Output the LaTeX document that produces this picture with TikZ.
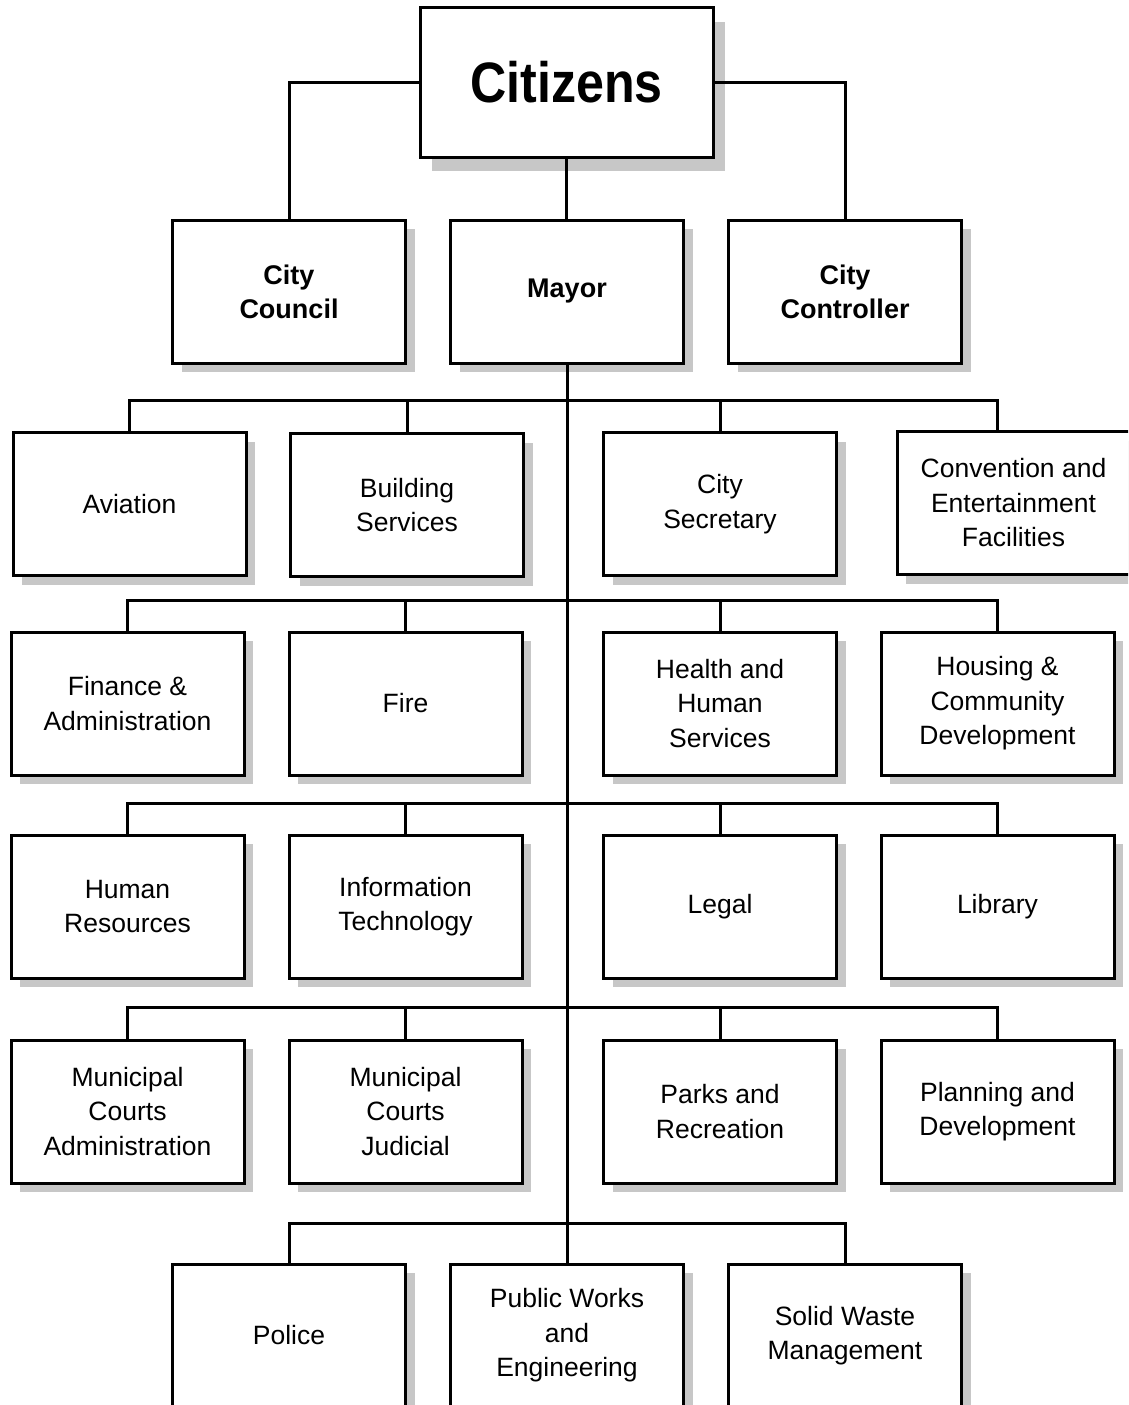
\documentclass[tikz,border=0pt]{standalone}
\usepackage{fontspec}
\usepackage{graphicx}
\setmainfont{Liberation Sans}
\usetikzlibrary{shadows}
\begin{document}
\begin{tikzpicture}[x=1pt,y=-1pt,
  plainbox/.style={draw, line width=3pt, fill=white, minimum width=233pt, minimum height=143pt,
    inner sep=0pt, outer sep=0pt, align=center, font=\fontsize{26.5}{34.5}\selectfont},
  sh/.style={drop shadow={shadow xshift=9pt, shadow yshift=-9pt, fill=black!22, opacity=1}},
  unit/.style={plainbox, sh},
  head/.style={unit, font=\bfseries\fontsize{27}{34}\selectfont},
  link/.style={line width=3pt}]
\useasboundingbox (0,0) rectangle (1128,1405);
\clip (0,0) rectangle (1128,1405);

% top
\node[plainbox, minimum width=293pt, minimum height=149pt,
  drop shadow={shadow xshift=12pt, shadow yshift=-14pt, fill=black!22, opacity=1},
  font=\bfseries\fontsize{57}{60}\selectfont] (cit) at (566.5,82.5) {\scalebox{0.88}[1]{Citizens}};

\node[head] (council) at (289,291.5) {City\\Council};
\node[head] (mayor) at (567,291.5) {Mayor};
\node[head] (ctrl) at (845,291.5) {City\\Controller};

% row 3
\node[unit] (avi) at (129.5,504) {Aviation};
\node[unit] (bld) at (407,505) {Building\\Services};
\node[unit] (sec) at (720,504) {City\\Secretary};
\node[unit] (conv) at (1013.5,503) {Convention and\\Entertainment\\Facilities};
% row 4
\node[unit] (fin) at (127.5,703.5) {Finance \&\\Administration};
\node[unit] (fire) at (405.5,703.5) {Fire};
\node[unit] (hhs) at (720,703.5) {Health and\\Human\\Services};
\node[unit] (hcd) at (997.5,703.5) {Housing \&\\Community\\Development};
% row 5
\node[unit] (hr) at (127.5,906.5) {Human\\Resources};
\node[unit] (it) at (405.5,906.5) {Information\\Technology};
\node[unit] (legal) at (720,906.5) {Legal};
\node[unit] (lib) at (997.5,906.5) {Library};
% row 6
\node[unit] (mca) at (127.5,1111.5) {Municipal\\Courts\\Administration};
\node[unit] (mcj) at (405.5,1111.5) {Municipal\\Courts\\Judicial};
\node[unit] (parks) at (720,1111.5) {Parks and\\Recreation};
\node[unit] (plan) at (997.5,1111.5) {Planning and\\Development};
% row 7
\node[unit] (police) at (289,1335.5) {Police};
\node[unit] (pw) at (567,1335.5) {Public Works\\and\\Engineering};
\node[unit] (sw) at (845,1335.5) {Solid Waste\\Management};

% connectors top
\draw[link] (cit.west) -| (council.north);
\draw[link] (cit.east) -| (ctrl.north);
\draw[link] (cit.south) -- (cit.south |- mayor.north);
\draw[link] (mayor.south) -- (mayor.south |- pw.north);

% buses
\coordinate (b3) at (565,400);
\coordinate (b4) at (565,600);
\coordinate (b5) at (565,803);
\coordinate (b6) at (565,1007);
\coordinate (b7) at (565,1223);
\coordinate (convin) at (997,432);

\draw[link] (avi.north) -- (avi.north |- b3) -- (convin |- b3) -- (convin);
\draw[link] (bld.north) -- (bld.north |- b3);
\draw[link] (sec.north) -- (sec.north |- b3);

\draw[link] (fin.north) -- (fin.north |- b4) -- (hcd.north |- b4) -- (hcd.north);
\draw[link] (fire.north) -- (fire.north |- b4);
\draw[link] (hhs.north) -- (hhs.north |- b4);

\draw[link] (hr.north) -- (hr.north |- b5) -- (lib.north |- b5) -- (lib.north);
\draw[link] (it.north) -- (it.north |- b5);
\draw[link] (legal.north) -- (legal.north |- b5);

\draw[link] (mca.north) -- (mca.north |- b6) -- (plan.north |- b6) -- (plan.north);
\draw[link] (mcj.north) -- (mcj.north |- b6);
\draw[link] (parks.north) -- (parks.north |- b6);

\draw[link] (police.north) -- (police.north |- b7) -- (sw.north |- b7) -- (sw.north);
\end{tikzpicture}
\end{document}
